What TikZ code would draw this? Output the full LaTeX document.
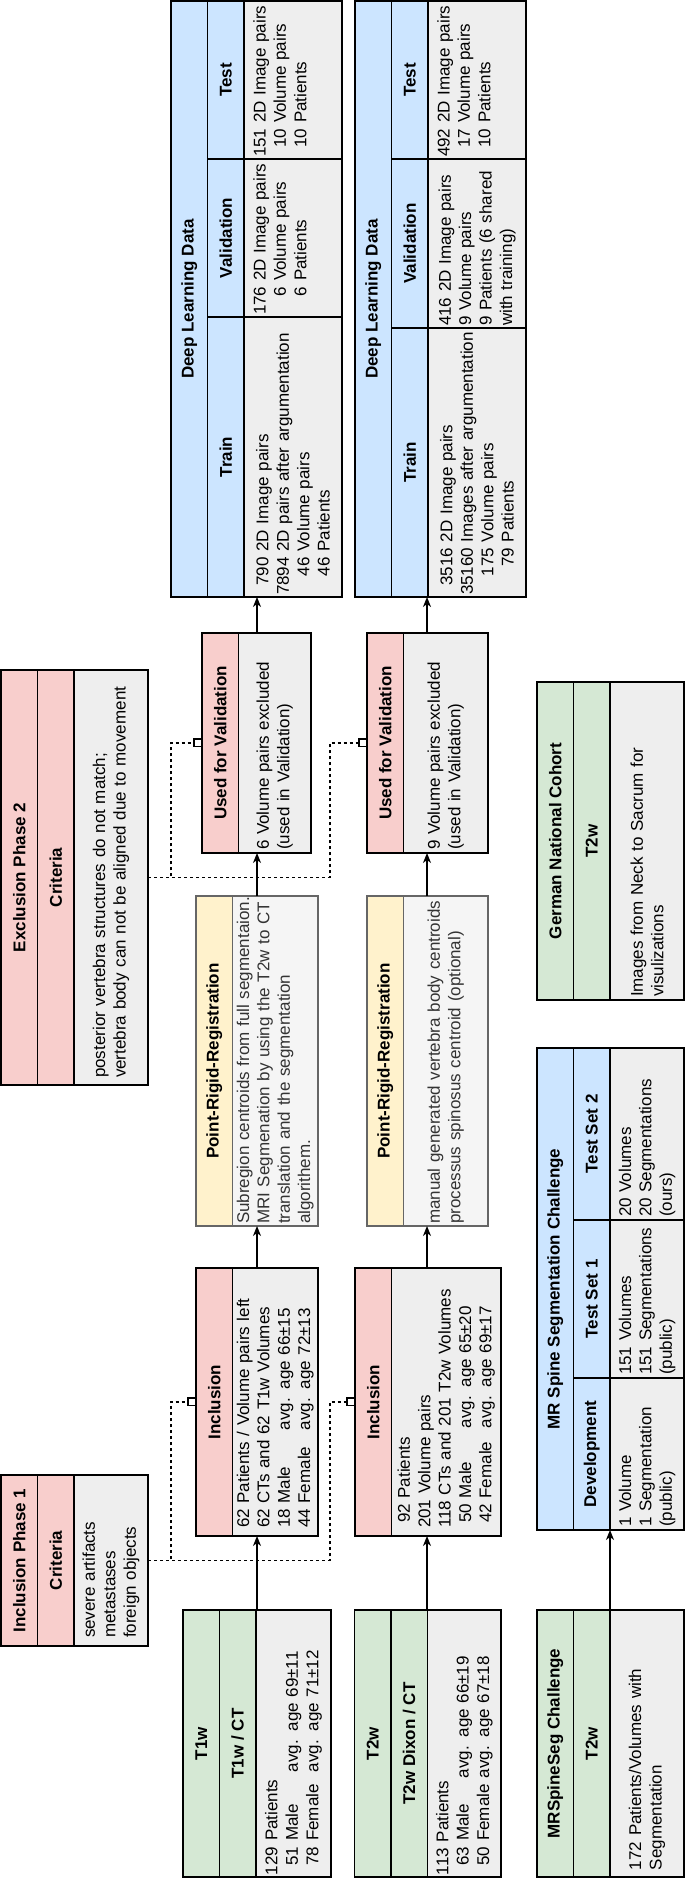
\documentclass[tikz,border=0pt]{standalone}
\usepackage{fontspec}
\setmainfont{Liberation Sans}
\usetikzlibrary{positioning,arrows.meta}

\definecolor{headgreen}{HTML}{D5E8D4}
\definecolor{headred}{HTML}{F8CECC}
\definecolor{headyellow}{HTML}{FFF2CC}
\definecolor{headblue}{HTML}{CCE5FF}
\definecolor{bodygrey}{HTML}{EEEEEE}
\definecolor{notegrey}{HTML}{F5F5F5}
\definecolor{notetext}{HTML}{333333}
\definecolor{noteline}{HTML}{666666}

\newcommand{\agecol}[2][103pt]{\makebox[#1][l]{#2}}

\tikzstyle{cell} = [rectangle, draw, line width=1.6pt, inner sep=0pt, outer sep=0pt, font=\fontsize{17}{20.4}\selectfont]
\tikzstyle{head} = [cell, minimum height=36.5pt, font=\fontsize{17}{20.4}\selectfont\bfseries]
\tikzstyle{greenhead} = [head, fill=headgreen]
\tikzstyle{redhead} = [head, fill=headred]
\tikzstyle{yellowhead} = [head, fill=headyellow, draw=noteline]
\tikzstyle{bluehead} = [head, fill=headblue]
\tikzstyle{body} = [cell, fill=bodygrey, align=left, inner ysep=2pt]
\tikzstyle{note} = [body, fill=notegrey, text=notetext, draw=noteline]
\tikzstyle{link} = [draw, line width=1.5pt, -{Stealth[length=10pt,width=8pt,inset=3pt]}]
\tikzstyle{optional} = [draw, line width=1.5pt, dash pattern=on 3pt off 3pt, -{Square[open,length=9pt,width=9pt,line width=1.5pt]}]

\begin{document}
\begin{tikzpicture}[x=1pt, y=-1pt, rotate=90, transform shape]
    \useasboundingbox (0,0) -- (1879,0) -- (1879,685) -- (0,685) -- cycle;

    % sources
    \node [greenhead, anchor=north west, minimum width=267pt] (t1wtitle) at (2,183) {T1w};
    \node [greenhead, below=0pt of t1wtitle, minimum width=267pt] (t1wsub) {T1w / CT};
    \node [body, below=0pt of t1wsub, inner xsep=2pt, text width=263pt, minimum height=75pt] (t1wbody)
        {129 Patients\\ \agecol{\hphantom{0}51 Male}avg. age 69±11\\ \agecol{\hphantom{0}78 Female}avg. age 71±12};

    \node [greenhead, anchor=north west, minimum width=267pt] (t2wtitle) at (2,354.5) {T2w};
    \node [greenhead, below=0pt of t2wtitle, minimum width=267pt] (t2wsub) {T2w Dixon / CT};
    \node [body, below=0pt of t2wsub, inner xsep=2pt, text width=263pt, minimum height=73.5pt] (t2wbody)
        {113 Patients\\ \agecol[97pt]{\hphantom{0}63 Male}avg. age 66±19\\ \agecol[97pt]{\hphantom{0}50 Female}avg. age 67±18};

    \node [greenhead, anchor=north west, minimum width=267pt] (mrstitle) at (2,537) {MRSpineSeg Challenge};
    \node [greenhead, below=0pt of mrstitle, minimum width=267pt] (mrssub) {T2w};
    \node [body, below=0pt of mrssub, inner xsep=7pt, text width=253pt, minimum height=74pt] (mrsbody)
        {172 Patients/Volumes with\\ Segmentation};

    % criteria
    \node [redhead, anchor=north west, minimum width=171pt] (ip1title) at (233,1) {Inclusion Phase 1};
    \node [redhead, below=0pt of ip1title, minimum width=171pt] (ip1sub) {Criteria};
    \node [body, below=0pt of ip1sub, inner xsep=8pt, text width=155pt, minimum height=74pt] (ip1body)
        {severe artifacts\\ metastases\\ foreign objects};

    \node [redhead, anchor=north west, minimum width=415pt] (ep2title) at (794,1) {Exclusion Phase 2};
    \node [redhead, below=0pt of ep2title, minimum width=415pt] (ep2sub) {Criteria};
    \node [body, below=0pt of ep2sub, inner xsep=7pt, text width=401pt, minimum height=74pt] (ep2body)
        {posterior vertebra structures do not match;\\ vertebra body can not be aligned due to movement};

    % inclusion
    \node [redhead, anchor=north west, minimum width=268pt] (incl1title) at (343,196) {Inclusion};
    \node [body, below=0pt of incl1title, inner xsep=8pt, text width=252pt, minimum height=85.5pt] (incl1body)
        {62 Patients / Volume pairs left\\ 62 CTs and 62 T1w Volumes\\ \agecol[98pt]{18 Male}avg. age 66±15\\ \agecol[98pt]{44 Female}avg. age 72±13};

    \node [redhead, anchor=north west, minimum width=268pt] (incl2title) at (343,355) {Inclusion};
    \node [body, below=0pt of incl2title, inner xsep=8pt, text width=252pt, minimum height=109.5pt] (incl2body)
        {\hspace*{5pt}92 Patients\\ 201 Volume pairs\\ 118 CTs and 201 T2w Volumes\\ \agecol[100pt]{\hspace*{5pt}50 Male}avg. age 65±20\\ \agecol[100pt]{\hspace*{5pt}42 Female}avg. age 69±17};

    % registration
    \node [yellowhead, anchor=north west, minimum width=330pt] (prr1title) at (653,196) {Point-Rigid-Registration};
    \node [note, below=0pt of prr1title, inner xsep=2pt, text width=326pt, minimum height=85.5pt] (prr1body)
        {\mbox{Subregion centroids from full segmentaion.}\\ MRI Segmenation by using the T2w to CT\\ translation and the segmentation\\ algorithem.};

    \node [yellowhead, anchor=north west, minimum width=330pt] (prr2title) at (653,367) {Point-Rigid-Registration};
    \node [note, below=0pt of prr2title, inner xsep=2pt, text width=326pt, minimum height=84.5pt] (prr2body)
        {manual generated vertebra body centroids\\ processus spinosus centroid (optional)};

    % validation split
    \node [redhead, anchor=north west, minimum width=220pt] (ufv1title) at (1026,202) {Used for Validation};
    \node [body, below=0pt of ufv1title, inner xsep=3pt, text width=214pt, minimum height=72.5pt] (ufv1body)
        {6 Volume pairs excluded\\ (used in Validation)};

    \node [redhead, anchor=north west, minimum width=220pt] (ufv2title) at (1026,367) {Used for Validation};
    \node [body, below=0pt of ufv2title, inner xsep=3pt, text width=214pt, minimum height=84.5pt] (ufv2body)
        {9 Volume pairs excluded\\ (used in Validation)};

    % deep learning data
    \node [bluehead, anchor=north west, minimum width=596pt] (dld1title) at (1282,171) {Deep Learning Data};
    \node [bluehead, below right=0pt of dld1title.south west, minimum width=280pt] (dld1train) {Train};
    \node [bluehead, right=0pt of dld1train, minimum width=158pt] (dld1val) {Validation};
    \node [bluehead, right=0pt of dld1val, minimum width=158pt] (dld1test) {Test};
    \node [body, below=0pt of dld1train, inner xsep=2pt, text width=276pt, minimum height=98pt] (dld1trainbody)
        {\hphantom{0}790 2D Image pairs\\ \mbox{7894 2D pairs after argumentation}\\ \hphantom{00}46 Volume pairs\\ \hphantom{00}46 Patients};
    \node [body, below=0pt of dld1val, inner xsep=2pt, text width=154pt, minimum height=98pt] (dld1valbody)
        {176 2D Image pairs\\ \hphantom{00}6 Volume pairs\\ \hphantom{00}6 Patients\\ \strut};
    \node [body, below=0pt of dld1test, inner xsep=2pt, text width=154pt, minimum height=98pt] (dld1testbody)
        {151 2D Image pairs\\ \hphantom{0}10 Volume pairs\\ \hphantom{0}10 Patients\\ \strut};

    \node [bluehead, anchor=north west, minimum width=596pt] (dld2title) at (1282,355) {Deep Learning Data};
    \node [bluehead, below right=0pt of dld2title.south west, minimum width=269pt] (dld2train) {Train};
    \node [bluehead, right=0pt of dld2train, minimum width=169pt] (dld2val) {Validation};
    \node [bluehead, right=0pt of dld2val, minimum width=158pt] (dld2test) {Test};
    \node [body, below=0pt of dld2train, inner xsep=2pt, text width=265pt, minimum height=98pt] (dld2trainbody)
        {\hphantom{0}3516 2D Image pairs\\ \mbox{35160 Images after argumentation}\\ \hphantom{00}175 Volume pairs\\ \hphantom{000}79 Patients};
    \node [body, below=0pt of dld2val, inner xsep=2pt, text width=165pt, minimum height=98pt] (dld2valbody)
        {416 2D Image pairs\\ 9 Volume pairs\\ 9 Patients (6 shared\\ with training)};
    \node [body, below=0pt of dld2test, inner xsep=2pt, text width=154pt, minimum height=98pt] (dld2testbody)
        {492 2D Image pairs\\ \hphantom{0}17 Volume pairs\\ \hphantom{0}10 Patients\\ \strut};

    % other data
    \node [greenhead, anchor=north west, minimum width=318pt] (gnctitle) at (879,537) {German National Cohort};
    \node [greenhead, below=0pt of gnctitle, minimum width=318pt] (gncsub) {T2w};
    \node [body, below=0pt of gncsub, inner xsep=3pt, text width=312pt, minimum height=74pt] (gncbody)
        {Images from Neck to Sacrum for\\ visulizations};

    \node [bluehead, anchor=north west, minimum width=482pt] (mrssctitle) at (349,537) {MR Spine Segmentation Challenge};
    \node [bluehead, below right=0pt of mrssctitle.south west, minimum width=152pt] (mrsscdev) {Development};
    \node [bluehead, right=0pt of mrsscdev, minimum width=158pt] (mrssctest1) {Test Set 1};
    \node [bluehead, right=0pt of mrssctest1, minimum width=172pt] (mrssctest2) {Test Set 2};
    \node [body, below=0pt of mrsscdev, inner xsep=3pt, text width=146pt, minimum height=74pt] (mrsscdevbody)
        {1 Volume\\ 1 Segmentation\\ (public)};
    \node [body, below=0pt of mrssctest1, inner xsep=3pt, text width=152pt, minimum height=74pt] (mrssctest1body)
        {151 Volumes\\ \mbox{151 Segmentations}\\ (public)};
    \node [body, below=0pt of mrssctest2, inner xsep=3pt, text width=166pt, minimum height=74pt] (mrssctest2body)
        {20 Volumes\\ 20 Segmentations\\ (ours)};

    \coordinate (lane1) at (0,257);
    \coordinate (lane2) at (0,427);
    \coordinate (lane3) at (0,610);
    \coordinate (p1a) at (318.5,171);
    \coordinate (p1b) at (318.5,330);
    \coordinate (p2a) at (1001.5,171);
    \coordinate (p2b) at (1001.5,330);

    \draw[link] (lane1 -| t1wbody.east) -- (lane1 -| incl1body.west);
    \draw[link] (lane1 -| incl1body.east) -- (lane1 -| prr1body.west);
    \draw[link] (lane1 -| prr1body.east) -- (lane1 -| ufv1body.west);
    \draw[link] (lane1 -| ufv1body.east) -- (lane1 -| dld1title.west);

    \draw[link] (lane2 -| t2wbody.east) -- (lane2 -| incl2body.west);
    \draw[link] (lane2 -| incl2body.east) -- (lane2 -| prr2body.west);
    \draw[link] (lane2 -| prr2body.east) -- (lane2 -| ufv2body.west);
    \draw[link] (lane2 -| ufv2body.east) -- (lane2 -| dld2title.west);

    \draw[link] (lane3 -| mrsbody.east) -- (lane3 -| mrssctitle.west);

    \draw[optional] (ip1body.south) -- (p1a) -| (incl1title.north);
    \draw[optional] (ip1body.south) -- (p1b) -| (incl2title.north);
    \draw[optional] (ep2body.south) -- (p2a) -| (ufv1title.north);
    \draw[optional] (ep2body.south) -- (p2b) -| (ufv2title.north);
\end{tikzpicture}
\end{document}
